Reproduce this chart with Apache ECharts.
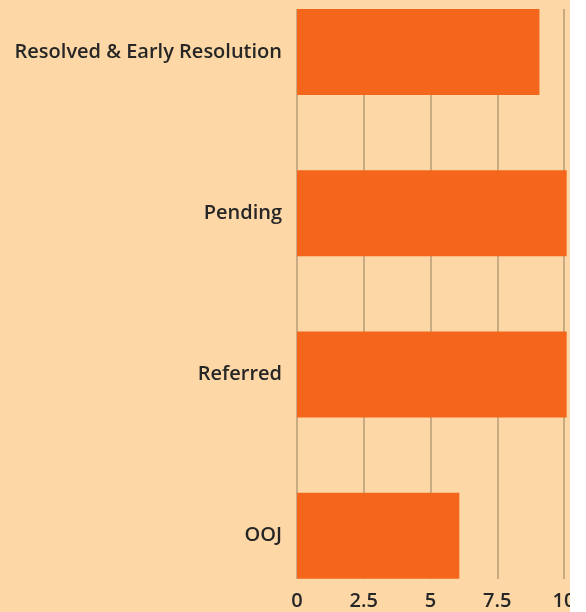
<!DOCTYPE html>
<html>
<head>
<meta charset="utf-8">
<script src="https://cdn.jsdelivr.net/npm/echarts@6/dist/echarts.min.js"></script>
<style>
  html, body { margin: 0; padding: 0; background: #ffffff; }
  #chart { width: 570px; height: 612px; background: #fdd8a6; }
</style>
</head>
<body>
<div id="chart"></div>
<script>
var categories = ['Resolved & Early Resolution', 'Pending', 'Referred', 'OOJ']
var values = [9.08, 10.1, 10.1, 6.08]
var xTicks = [0, 2.5, 5, 7.5, 10]

var fontName = 'Open Sans'
var textColor = '#262626'

var chart = echarts.init(document.getElementById('chart'))

var option = {
  backgroundColor: '#fdd8a6',
  animation: false,
  grid: [
    // grid for the value axis, split lines and tick labels
    { left: 297, top: 9, right: 6, bottom: 33, outerBoundsMode: 'none' },
    // grid for the bars, taller so the bars sit edge to edge
    { left: 297, top: -28.6, right: 6, bottom: -4.4, outerBoundsMode: 'none' }
  ],
  xAxis: [{
    type: 'value',
    gridIndex: 0,
    min: 0,
    max: 10,
    interval: 2.5,
    axisLine: { show: false },
    axisTick: { show: false },
    splitLine: { lineStyle: { color: '#c9ab83', width: 2 } },
    axisLabel: {
      margin: 12,
      fontFamily: fontName,
      fontSize: 20,
      fontWeight: 600,
      color: textColor,
      formatter: function (v) {
        return xTicks.indexOf(v) >= 0 ? String(v) : ''
      }
    }
  }, {
    type: 'value',
    gridIndex: 1,
    min: 0,
    max: 10,
    show: false
  }],
  yAxis: [{
    type: 'value',
    gridIndex: 0,
    show: false
  }, {
    type: 'category',
    gridIndex: 1,
    inverse: true,
    data: categories,
    axisLine: { show: false },
    axisTick: { show: false },
    splitLine: { show: false },
    axisLabel: {
      margin: 15,
      fontFamily: fontName,
      fontSize: 20,
      fontWeight: 600,
      color: textColor
    }
  }],
  series: [{
    type: 'bar',
    xAxisIndex: 1,
    yAxisIndex: 1,
    data: values,
    barWidth: 86,
    clip: false,
    itemStyle: { color: '#f3661b' }
  }]
}

chart.setOption(option)
</script>
</body>
</html>
